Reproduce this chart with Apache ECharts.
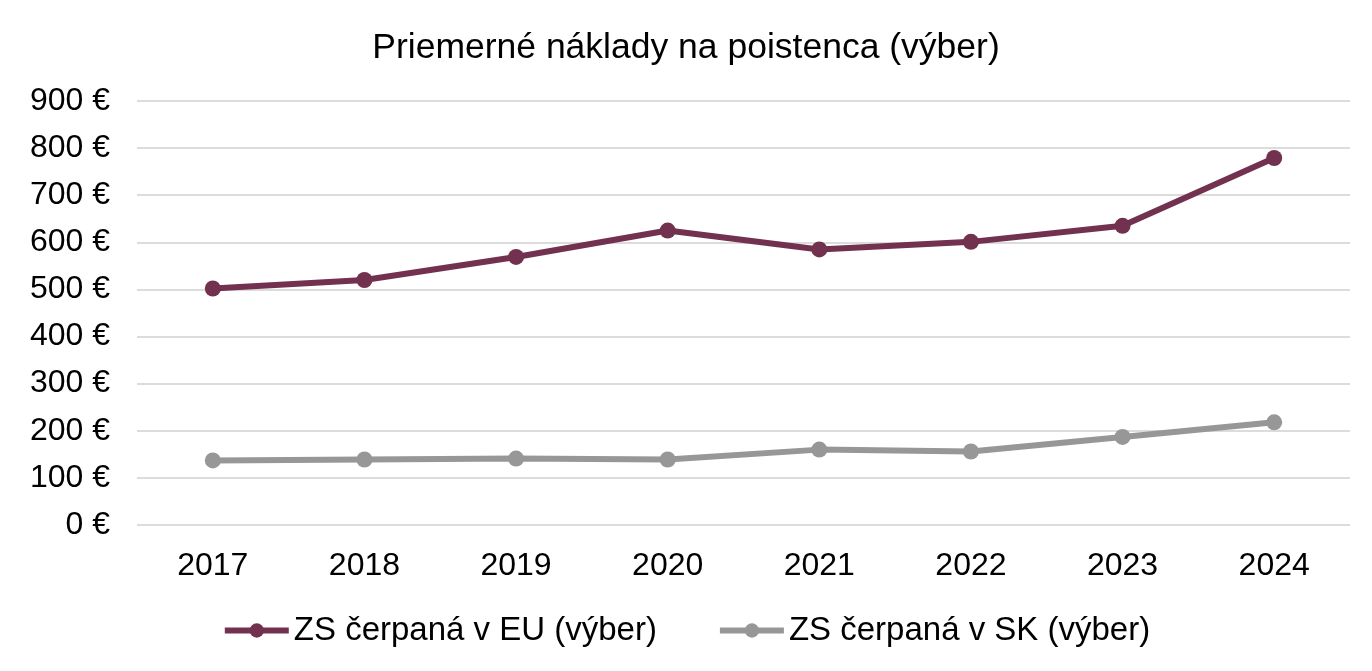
<!DOCTYPE html>
<html>
<head>
<meta charset="utf-8">
<script src="https://cdn.jsdelivr.net/npm/echarts@6/dist/echarts.min.js"></script>
<style>
  html, body { margin: 0; padding: 0; background: #fff; }
  #chart { width: 1372px; height: 671px; }
</style>
</head>
<body>
<div id="chart"></div>
<script>
const years = ["2017", "2018", "2019", "2020", "2021", "2022", "2023", "2024"];
const euValues = [502, 520, 569, 625, 585, 601, 635, 779];
const skValues = [137, 139, 141, 139, 160, 156, 187, 218];

const chart = echarts.init(document.getElementById("chart"));

const font = "Liberation Sans, Arial, sans-serif";

chart.setOption({
  animation: false,
  textStyle: { fontFamily: font },
  title: {
    text: "Priemerné náklady na poistenca (výber)",
    left: "center",
    top: 25,
    textStyle: { fontFamily: font, fontSize: 35.5, fontWeight: "normal", color: "#000" },
  },
  legend: {
    bottom: 19,
    left: "center",
    itemWidth: 64,
    itemHeight: 18,
    itemGap: 60,
    lineStyle: { width: 6 },
    textStyle: { fontFamily: font, fontSize: 33, color: "#000" },
    data: ["ZS čerpaná v EU (výber)", "ZS čerpaná v SK (výber)"],
  },
  grid: { left: 137, right: 22, top: 101, bottom: 146 },
  xAxis: {
    type: "category",
    data: years,
    boundaryGap: true,
    axisLine: { show: false },
    axisTick: { show: false },
    axisLabel: { fontFamily: font, fontSize: 32, color: "#000", margin: 25 },
  },
  yAxis: {
    type: "value",
    min: 0,
    max: 900,
    interval: 100,
    axisLine: { show: false },
    axisTick: { show: false },
    axisLabel: { fontFamily: font, fontSize: 32, color: "#000", margin: 27, formatter: "{value} €" },
    splitLine: { lineStyle: { color: "#dcdcdc", width: 2 } },
  },
  series: [
    {
      name: "ZS čerpaná v EU (výber)",
      type: "line",
      data: euValues,
      symbol: "circle",
      symbolSize: 16,
      lineStyle: { color: "#72314f", width: 6 },
      itemStyle: { color: "#72314f" },
    },
    {
      name: "ZS čerpaná v SK (výber)",
      type: "line",
      data: skValues,
      symbol: "circle",
      symbolSize: 16,
      lineStyle: { color: "#979797", width: 6 },
      itemStyle: { color: "#979797" },
    },
  ],
});
</script>
</body>
</html>
